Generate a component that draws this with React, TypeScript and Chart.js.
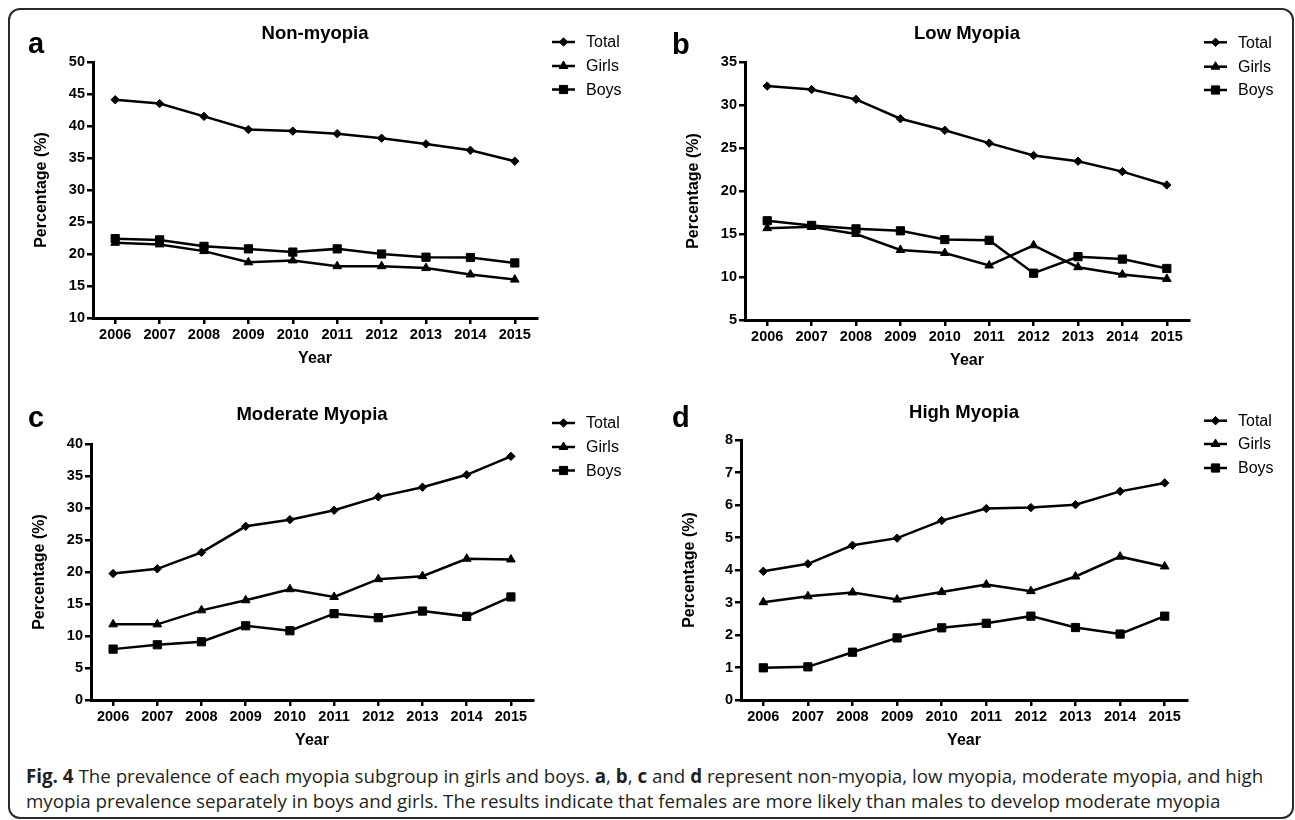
import React, { useEffect, useRef } from 'react';
import { Chart, registerables } from 'chart.js';
import { drawPoint } from 'chart.js/helpers';

Chart.register(...registerables);

// ---------- data ----------
const years = ['2006', '2007', '2008', '2009', '2010', '2011', '2012', '2013', '2014', '2015'];
const seriesLabels = ['Total', 'Girls', 'Boys'];

const nonMyopiaTotal = [44.1, 43.5, 41.5, 39.45, 39.2, 38.8, 38.1, 37.2, 36.2, 34.5];
const nonMyopiaGirls = [21.75, 21.5, 20.45, 18.7, 19.0, 18.1, 18.1, 17.8, 16.8, 16.0];
const nonMyopiaBoys = [22.4, 22.2, 21.2, 20.8, 20.3, 20.8, 20.0, 19.5, 19.45, 18.6];

const lowTotal = [32.2, 31.8, 30.66, 28.4, 27.06, 25.57, 24.13, 23.46, 22.25, 20.7];
const lowGirls = [15.68, 15.84, 15.0, 13.14, 12.79, 11.34, 13.69, 11.14, 10.28, 9.78];
const lowBoys = [16.54, 16.0, 15.6, 15.37, 14.35, 14.27, 10.44, 12.36, 12.08, 10.99];

const moderateTotal = [19.76, 20.5, 23.06, 27.14, 28.18, 29.65, 31.74, 33.25, 35.19, 38.07];
const moderateGirls = [11.82, 11.82, 14.01, 15.58, 17.31, 16.1, 18.88, 19.35, 22.07, 21.96];
const moderateBoys = [7.95, 8.63, 9.1, 11.6, 10.82, 13.49, 12.86, 13.9, 13.07, 16.1];

const highTotal = [3.96, 4.19, 4.76, 4.98, 5.52, 5.89, 5.92, 6.01, 6.42, 6.68];
const highGirls = [3.01, 3.19, 3.31, 3.09, 3.32, 3.55, 3.35, 3.8, 4.41, 4.11];
const highBoys = [0.99, 1.02, 1.47, 1.91, 2.22, 2.36, 2.58, 2.23, 2.03, 2.58];

const panelTitles = ['Non-myopia', 'Low Myopia', 'Moderate Myopia', 'High Myopia'];
const panelLetters = ['a', 'b', 'c', 'd'];
const yMins = [10, 5, 0, 0];
const yMaxs = [50, 35, 40, 8];
const ySteps = [5, 5, 5, 1];

// ---------- layout ----------
const FONT = '"Liberation Sans", Arial, Helvetica, sans-serif';
const CW = 640;
const CH = 370;
const Y_AXIS_W = 40;
const X_AXIS_H = 30;

type Layout = {
  cx: number; cy: number;
  area: { l: number; t: number; r: number; b: number };
  letter: { x: number; y: number };
  titleY: number;
  legendX: number;
  legendYs: number[];
};

const layouts: Layout[] = [
  { cx: 10, cy: 10, area: { l: 93, t: 62, r: 537, b: 318 }, letter: { x: 28, y: 53 }, titleY: 33.5, legendX: 552, legendYs: [42, 66, 89.5] },
  { cx: 650, cy: 10, area: { l: 745, t: 62, r: 1189, b: 320 }, letter: { x: 672, y: 54 }, titleY: 33.5, legendX: 1204, legendYs: [42.3, 66.7, 90] },
  { cx: 10, cy: 390, area: { l: 91, t: 444, r: 533, b: 700 }, letter: { x: 28, y: 426.5 }, titleY: 415, legendX: 552, legendYs: [423, 447, 470.5] },
  { cx: 650, cy: 390, area: { l: 741, t: 440, r: 1187, b: 700 }, letter: { x: 672, y: 427 }, titleY: 412.7, legendX: 1204, legendYs: [420.7, 444, 468] },
];

const seriesData = [
  [nonMyopiaTotal, nonMyopiaGirls, nonMyopiaBoys],
  [lowTotal, lowGirls, lowBoys],
  [moderateTotal, moderateGirls, moderateBoys],
  [highTotal, highGirls, highBoys],
];

const pointStyles = ['rectRot', 'triangle', 'rect'];
const pointRadii = [4.2, 5, 5.8];

function makeDecor(i: number) {
  const L = layouts[i];
  return {
    id: 'decor' + i,
    afterDraw(chart: any) {
      const ctx: CanvasRenderingContext2D = chart.ctx;
      const a = chart.chartArea;
      const ox = L.cx;
      const oy = L.cy;
      ctx.save();
      ctx.fillStyle = '#000';
      ctx.strokeStyle = '#000';
      // panel letter
      ctx.font = `bold 29px ${FONT}`;
      ctx.textAlign = 'left';
      ctx.textBaseline = 'alphabetic';
      ctx.fillText(panelLetters[i], L.letter.x - ox, L.letter.y - oy);
      // title
      ctx.font = `bold 18.5px ${FONT}`;
      ctx.textAlign = 'center';
      ctx.textBaseline = 'middle';
      ctx.fillText(panelTitles[i], (a.left + a.right) / 2, L.titleY - oy);
      // axis titles
      ctx.font = `bold 16px ${FONT}`;
      ctx.fillText('Year', (a.left + a.right) / 2, a.bottom + 41);
      ctx.save();
      ctx.translate(a.left - 51, (a.top + a.bottom) / 2);
      ctx.rotate(-Math.PI / 2);
      ctx.fillText('Percentage (%)', 0, 0);
      ctx.restore();
      // legend
      chart.data.datasets.forEach((ds: any, k: number) => {
        const lx = L.legendX - ox;
        const ly = L.legendYs[k] - oy;
        ctx.lineWidth = 2.5;
        ctx.beginPath();
        ctx.moveTo(lx, ly);
        ctx.lineTo(lx + 23, ly);
        ctx.stroke();
        ctx.lineWidth = 1;
        drawPoint(ctx, { pointStyle: ds.pointStyle, radius: ds.pointRadius, rotation: 0, borderWidth: 1 } as any, lx + 11.5, ly);
        ctx.font = `16px ${FONT}`;
        ctx.textAlign = 'left';
        ctx.textBaseline = 'middle';
        ctx.fillText(ds.label, lx + 34, ly + 1);
      });
      ctx.restore();
    },
  };
}

function Panel({ index }: { index: number }) {
  const ref = useRef<HTMLCanvasElement>(null);
  useEffect(() => {
    if (!ref.current) return;
    const L = layouts[index];
    const padLeft = L.area.l - L.cx - Y_AXIS_W;
    const padTop = L.area.t - L.cy;
    const padRight = CW - (L.area.r - L.cx);
    const padBottom = CH - (L.area.b - L.cy) - X_AXIS_H;
    const grid = {
      display: true,
      drawOnChartArea: false,
      drawTicks: true,
      tickLength: 6,
      lineWidth: 2.5,
      color: '#000',
      offset: false,
    };
    const border = { display: true, color: '#000', width: 3 };
    const tickFont = { family: FONT, size: 14.5, weight: 'bold' as const };
    const chart = new Chart(ref.current, {
      type: 'line',
      data: {
        labels: years,
        datasets: seriesData[index].map((d, k) => ({
          label: seriesLabels[k],
          data: d,
          borderColor: '#000',
          backgroundColor: '#000',
          pointBackgroundColor: '#000',
          pointBorderColor: '#000',
          borderWidth: 2.5,
          pointBorderWidth: 1,
          pointStyle: pointStyles[k] as any,
          pointRadius: pointRadii[k],
          tension: 0,
          fill: false,
        })),
      },
      options: {
        animation: false,
        responsive: false,
        devicePixelRatio: 1,
        events: [],
        layout: { padding: { left: padLeft, top: padTop, right: padRight, bottom: padBottom } },
        plugins: {
          legend: { display: false },
          title: { display: false },
          tooltip: { enabled: false },
        },
        scales: {
          x: {
            type: 'category',
            offset: true,
            grid: grid as any,
            border,
            ticks: { color: '#000', font: tickFont, padding: 2, maxRotation: 0, autoSkip: false },
            afterFit: (s: any) => { s.height = X_AXIS_H; },
          },
          y: {
            min: yMins[index],
            max: yMaxs[index],
            grid: grid as any,
            border,
            ticks: { stepSize: ySteps[index], color: '#000', font: tickFont, padding: 2 },
            afterFit: (s: any) => { s.width = Y_AXIS_W; },
          },
        },
      },
      plugins: [makeDecor(index)],
    });
    return () => chart.destroy();
  }, [index]);
  const L = layouts[index];
  return (
    <canvas
      ref={ref}
      width={CW}
      height={CH}
      style={{ position: 'absolute', left: L.cx, top: L.cy, width: CW, height: CH }}
    />
  );
}

export default function App() {
  return (
    <div style={{ position: 'absolute', left: 0, top: 0, width: 1295, height: 820, background: '#fff', overflow: 'hidden' }}>
      <div
        style={{
          position: 'absolute', left: 8, top: 8, width: 1286, height: 811,
          boxSizing: 'border-box', border: '2px solid #2a2a2a', borderRadius: 12,
        }}
      />
      {[0, 1, 2, 3].map((i) => <Panel key={i} index={i} />)}
      <div
        style={{
          position: 'absolute', left: 26, top: 763, fontFamily: '"Open Sans", sans-serif',
          fontSize: 18.75, lineHeight: '25px', color: '#231f20', whiteSpace: 'nowrap',
        }}
      >
        <b>Fig. 4</b> The prevalence of each myopia subgroup in girls and boys. <b>a</b>, <b>b</b>, <b>c</b> and <b>d</b> represent non-myopia, low myopia, moderate myopia, and high
        <br />
        myopia prevalence separately in boys and girls. The results indicate that females are more likely than males to develop moderate myopia
      </div>
    </div>
  );
}
